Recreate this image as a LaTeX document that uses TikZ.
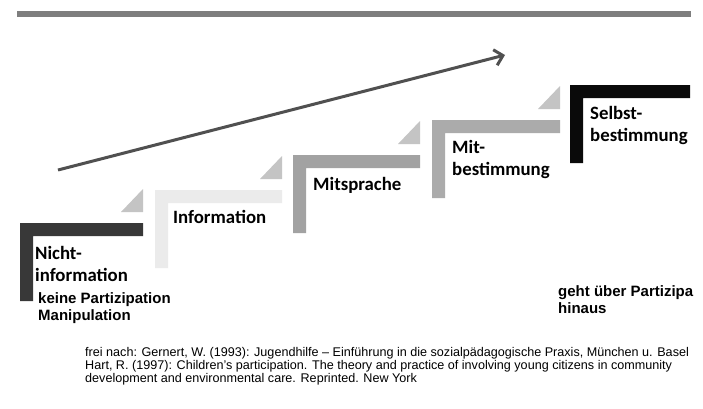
\documentclass[tikz,border=0pt]{standalone}
\usepackage{fontspec}
\usepackage{tikz}
\usetikzlibrary{arrows.meta}
\setmainfont{Liberation Sans}
\newfontfamily\stepfont{Carlito}

\definecolor{barcol}{HTML}{7E7E7E}
\definecolor{arrowcol}{HTML}{505050}
\definecolor{tricol}{HTML}{C4C4C4}
\definecolor{stepa}{HTML}{383838}
\definecolor{stepb}{HTML}{EBEBEB}
\definecolor{stepc}{HTML}{A2A2A2}
\definecolor{stepd}{HTML}{ABABAB}
\definecolor{stepe}{HTML}{0A0A0A}

\begin{document}
\begin{tikzpicture}[x=1pt,y=-1pt,
    steplabel/.style={anchor=base west,inner sep=0pt,align=left,
        font=\stepfont\bfseries\fontsize{18.8}{21.5}\selectfont},
    notelabel/.style={anchor=base west,inner sep=0pt,align=left,
        font=\bfseries\fontsize{15}{17}\selectfont},
    sourcelabel/.style={anchor=base west,inner sep=0pt,align=left,
        font=\fontsize{12.6}{13}\selectfont}]
    \useasboundingbox[fill=white] (0,0) rectangle (703,408);
    % top rule
    \fill[barcol] (17,11) rectangle (691,17);
    % steps
    \foreach \x/\y/\w/\c in {20/223/123/stepa,155/190/127/stepb,293/155/127/stepc,432/120/128/stepd,570/85/120/stepe}{
        \fill[\c] (\x,\y) -- ++(\w,0) -- ++(0,13) -- (\x+13,\y+13) -- (\x+13,\y+78) -- (\x,\y+78) -- cycle;
    }
    \foreach \x/\y in {143/223,282/190,420/155,560/120}{
        \fill[tricol] (\x-22,\y-11) -- (\x,\y-11) -- (\x,\y-34) -- cycle;
    }
    % arrow
    \coordinate (start) at (58,170);
    \coordinate (end) at (505,55);
    \draw[arrowcol,line width=3pt,-{Straight Barb[length=8pt,width=16pt,line width=3pt]}] (start) -- (end);
    % labels (base = last line)
    \node[steplabel] (nicht) at (35,281) {Nicht-\\information};
    \node[steplabel] (info) at (173,223) {Information};
    \node[steplabel] (mitspr) at (313,190) {Mitsprache};
    \node[steplabel] (mitbest) at (452,175) {Mit-\\bestimmung};
    \node[steplabel] (selbst) at (590,141) {Selbst-\\bestimmung};
    \node[notelabel] (keine) at (38,320) {keine Partizipation\\Manipulation};
    \node[notelabel] (hinaus) at (558,313) {geht über Partizipa\\hinaus};
    \node[sourcelabel] (source) at (85,382) {frei nach: Gernert, W. (1993): Jugendhilfe -- Einführung in die sozialpädagogische Praxis, München u. Basel\\Hart, R. (1997): Children's participation. The theory and practice of involving young citizens in community\\development and environmental care. Reprinted. New York};
\end{tikzpicture}
\end{document}
